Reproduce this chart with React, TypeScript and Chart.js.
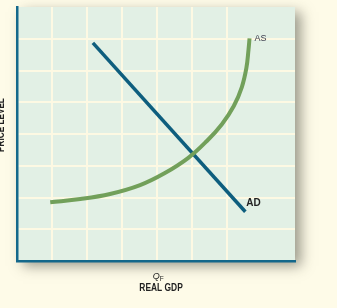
import React, { useEffect, useRef } from "react";
import { Chart, registerables } from "chart.js";

Chart.register(...registerables);

// Data (units = grid cells)
const asX = [0.95, 1.81, 2.66, 3.52, 4.23, 4.89, 5.43, 5.86, 6.2, 6.43, 6.56, 6.62, 6.65];
const asY = [1.85, 1.95, 2.11, 2.39, 2.77, 3.24, 3.78, 4.31, 4.88, 5.48, 6.08, 6.65, 7.01];
const adX = [2.17, 6.53];
const adY = [6.87, 1.55];
const labels = { as: "AS", ad: "AD", q: "Q", qSub: "F", xTitle: "REAL GDP", yTitle: "PRICE LEVEL" };

const CREAM = "#fefbe8";
const MINT = "#e2f0e5";
const GRID = "#fdf9e3";
const AXIS = "#14688b";
const AD_COLOR = "#0e5e7e";
const AS_COLOR = "#72a05a";
const TEXT = "#222222";

function drawScaled(ctx: CanvasRenderingContext2D, text: string, x: number, y: number, sx: number) {
  ctx.save();
  ctx.translate(x, y);
  ctx.scale(sx, 1);
  ctx.fillText(text, 0, 0);
  ctx.restore();
}

const decorPlugin = {
  id: "decor",
  beforeDraw(chart: any) {
    const { ctx, chartArea } = chart;
    const { left, top, right, bottom } = chartArea;
    ctx.save();
    ctx.fillStyle = CREAM;
    ctx.fillRect(0, 0, chart.width, chart.height);
    ctx.shadowColor = "rgba(60,60,50,0.5)";
    ctx.shadowBlur = 12;
    ctx.shadowOffsetX = 6;
    ctx.shadowOffsetY = 5;
    ctx.fillStyle = MINT;
    ctx.fillRect(left, top, right - left, bottom - top);
    ctx.restore();
  },
  afterDraw(chart: any) {
    const { ctx } = chart;
    const xs = chart.scales.x;
    const ys = chart.scales.y;
    ctx.save();
    ctx.textBaseline = "middle";
    // AS label
    ctx.fillStyle = "#3a3a4a";
    ctx.font = "9px 'Liberation Sans', Arial, sans-serif";
    ctx.textAlign = "left";
    ctx.fillText(labels.as, xs.getPixelForValue(asX[asX.length - 1]) + 5, ys.getPixelForValue(asY[asY.length - 1]) + 0.5);
    // AD label
    ctx.fillStyle = TEXT;
    ctx.font = "bold 10px 'Liberation Sans', Arial, sans-serif";
    ctx.fillText(labels.ad, xs.getPixelForValue(adX[1]) + 1, ys.getPixelForValue(adY[1]) - 8.5);
    // Q_F
    const qx = xs.getPixelForValue(4.08);
    ctx.font = "italic 9px 'Liberation Sans', Arial, sans-serif";
    ctx.textAlign = "right";
    ctx.fillText(labels.q, qx, 276);
    ctx.font = "6.5px 'Liberation Sans', Arial, sans-serif";
    ctx.textAlign = "left";
    ctx.fillText(labels.qSub, qx, 279.5);
    // x title
    ctx.font = "bold 10px 'Liberation Sans', Arial, sans-serif";
    ctx.textAlign = "center";
    drawScaled(ctx, labels.xTitle, xs.getPixelForValue(4.12), 288, 0.84);
    // y title
    ctx.save();
    ctx.translate(1.5, 125);
    ctx.rotate(-Math.PI / 2);
    ctx.scale(0.82, 1);
    ctx.textAlign = "center";
    ctx.fillText(labels.yTitle, 0, 0);
    ctx.restore();
    ctx.restore();
  },
};

export default function App() {
  const ref = useRef<HTMLCanvasElement | null>(null);
  useEffect(() => {
    document.body.style.margin = "0";
    document.body.style.background = CREAM;
    if (!ref.current) return;
    const gridColor = (c: any) => {
      const v = c.tick ? c.tick.value : 0;
      return v <= 0.001 || v >= 7.9 ? "rgba(0,0,0,0)" : GRID;
    };
    const chart = new Chart(ref.current, {
      type: "line",
      data: {
        datasets: [
          {
            label: "AS",
            data: asX.map((x, i) => ({ x, y: asY[i] })),
            borderColor: AS_COLOR,
            borderWidth: 4,
            pointRadius: 0,
            tension: 0.4,
            fill: false,
          },
          {
            label: "AD",
            data: adX.map((x, i) => ({ x, y: adY[i] })),
            borderColor: AD_COLOR,
            borderWidth: 3.5,
            pointRadius: 0,
            tension: 0,
            fill: false,
          },
        ],
      },
      options: {
        animation: false,
        responsive: false,
        maintainAspectRatio: false,
        devicePixelRatio: 1,
        layout: { padding: { left: 17, top: 7, right: 42, bottom: 47 } },
        plugins: { legend: { display: false }, tooltip: { enabled: false } },
        scales: {
          x: {
            type: "linear",
            min: 0,
            max: 7.95,
            ticks: { display: false, stepSize: 1 },
            grid: { color: gridColor, lineWidth: 2, drawTicks: false },
            border: { display: true, color: AXIS, width: 2.5 },
            afterFit: (s: any) => { s.height = 0; },
          },
          y: {
            type: "linear",
            min: 0,
            max: 8,
            ticks: { display: false, stepSize: 1 },
            grid: { color: gridColor, lineWidth: 2, drawTicks: false },
            border: { display: true, color: AXIS, width: 2.5 },
            afterFit: (s: any) => { s.width = 0; },
          },
        },
      },
      plugins: [decorPlugin],
    } as any);
    return () => chart.destroy();
  }, []);
  return (
    <div style={{ width: 337, height: 308, background: CREAM }}>
      <canvas ref={ref} width={337} height={308} style={{ display: "block", width: 337, height: 308 }} />
    </div>
  );
}
